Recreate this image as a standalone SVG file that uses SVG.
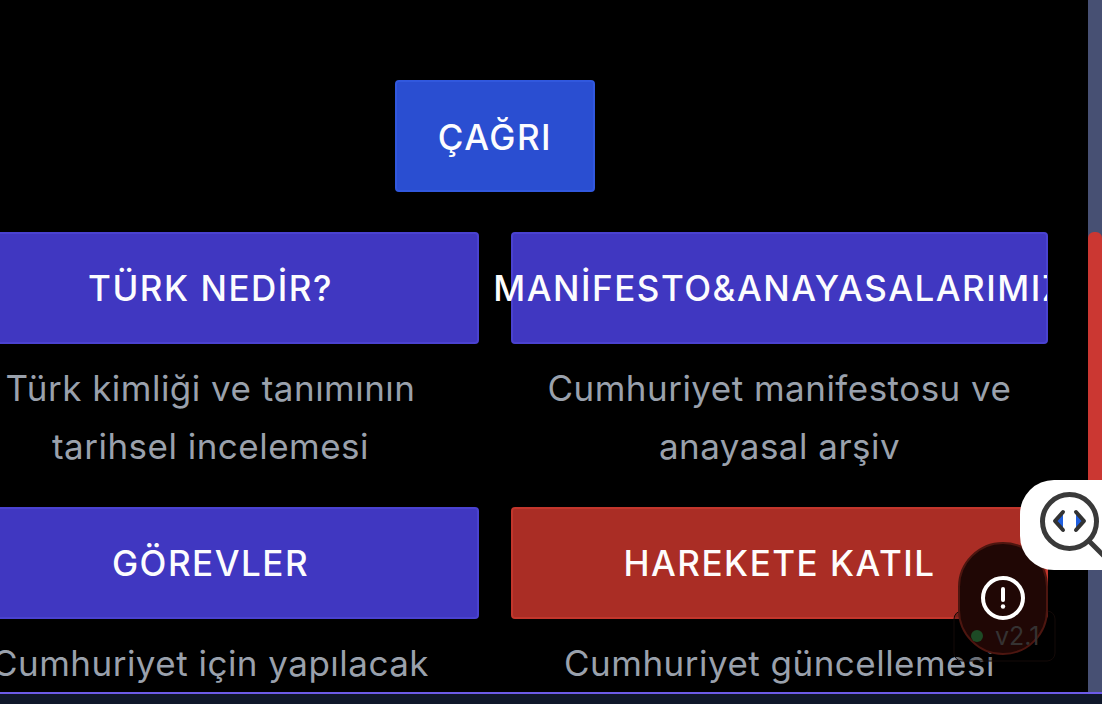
<svg xmlns="http://www.w3.org/2000/svg" width="1102" height="704" viewBox="0 0 1102 704">
<style>
.btn{font-family:Inter,"Liberation Sans",sans-serif;font-size:35px;font-weight:500;fill:#fff;text-anchor:middle;letter-spacing:1.5px;opacity:.99}
.sub{font-family:Inter,"Liberation Sans",sans-serif;font-size:35px;fill:#9ca3af;text-anchor:middle;letter-spacing:.48px;opacity:.99}
.blue{fill:#4037c1;stroke:#4a42d0;stroke-width:2}
</style>
<defs>
<clipPath id="clipM"><rect x="0" y="232" width="1047" height="112"/></clipPath>
<clipPath id="clipLens"><rect x="1020" y="480" width="82" height="90"/></clipPath>
</defs>
<rect width="1102" height="704" fill="#000"/>
<rect x="0" y="694" width="1102" height="10" fill="#0f172a"/>
<rect x="1088" y="0" width="14" height="692" fill="#475073"/>
<rect x="1088" y="232" width="14" height="280" rx="6" fill="#cb3732"/>
<rect x="0" y="692" width="1102" height="2" fill="#6d5be8"/>
<g id="node-cagri">
<rect x="396" y="81" width="198" height="110" rx="3" fill="#2a4ed1" stroke="#3158de" stroke-width="2"/>
<text class="btn" x="495" y="149.500">ÇAĞRI</text>
</g>
<g id="node-turk">
<rect class="blue" x="-10" y="233" width="488" height="110" rx="3"/>
<text class="btn" x="210.500" y="300.500">TÜRK NEDİR?</text>
<text class="sub" x="210.500" y="401">Türk kimliği ve tanımının</text>
<text class="sub" x="210.500" y="459">tarihsel incelemesi</text>
</g>
<g id="node-manifesto">
<rect class="blue" x="512" y="233" width="535" height="110" rx="3"/>
<text class="btn" x="779.500" y="300.500" clip-path="url(#clipM)">MANİFESTO&amp;ANAYASALARIMIZ</text>
<text class="sub" x="779.500" y="401">Cumhuriyet manifestosu ve</text>
<text class="sub" x="779.500" y="459">anayasal arşiv</text>
</g>
<g id="node-gorevler">
<rect class="blue" x="-10" y="508" width="488" height="110" rx="3"/>
<text class="btn" x="210.500" y="575.500">GÖREVLER</text>
<text class="sub" x="210.500" y="676">Cumhuriyet için yapılacak</text>
</g>
<g id="node-harekete">
<rect x="512" y="508" width="535" height="110" rx="3" fill="#aa2d25" stroke="#c2362c" stroke-width="2"/>
<text class="btn" x="779.500" y="575.500">HAREKETE KATIL</text>
<text class="sub" x="779.500" y="676">Cumhuriyet güncellemesi</text>
</g>
<rect id="version-badge-frame" x="954" y="611" width="101" height="50" rx="8" fill="#000" fill-opacity=".3" stroke="#140a08" stroke-width="1"/>
<g id="alert-button">
<path d="M1003 543a44 44 0 0 1 44 44v23a44 44 0 0 1-44 44a44 44 0 0 1-44-44v-23a44 44 0 0 1 44-44z" fill="#200705" stroke="#4d1610" stroke-width="2"/>
<circle cx="1003" cy="598" r="20" fill="none" stroke="#fff" stroke-width="4"/>
<line x1="1003" y1="589" x2="1003" y2="600" stroke="#fff" stroke-width="4" stroke-linecap="round"/>
<circle cx="1003" cy="606.500" r="2.200" fill="#fff"/>
</g>
<g id="version-badge">
<circle cx="977" cy="636" r="6" fill="#1d4a25"/>
<text x="995" y="645" font-family="Inter,'Liberation Sans',sans-serif" font-size="25" fill="#363333" opacity=".99">v2.1</text>
</g>
<g id="inspect-button">
<path d="M1102 480H1054a34 34 0 0 0-34 34v22a34 34 0 0 0 34 34H1102z" fill="#fff"/>
<g clip-path="url(#clipLens)">
<circle cx="1069.500" cy="521.500" r="27" fill="none" stroke="#3a3a3a" stroke-width="5"/>
<line x1="1089" y1="541" x2="1110" y2="562" stroke="#3a3a3a" stroke-width="5"/>
<path d="M1063 512l-8 9 8 9" fill="#1f5fe0" stroke="#333" stroke-width="4" stroke-linejoin="round" stroke-linecap="round"/>
<path d="M1076 512l8 9-8 9" fill="#1f5fe0" stroke="#333" stroke-width="4" stroke-linejoin="round" stroke-linecap="round"/>
</g>
</g>
</svg>
